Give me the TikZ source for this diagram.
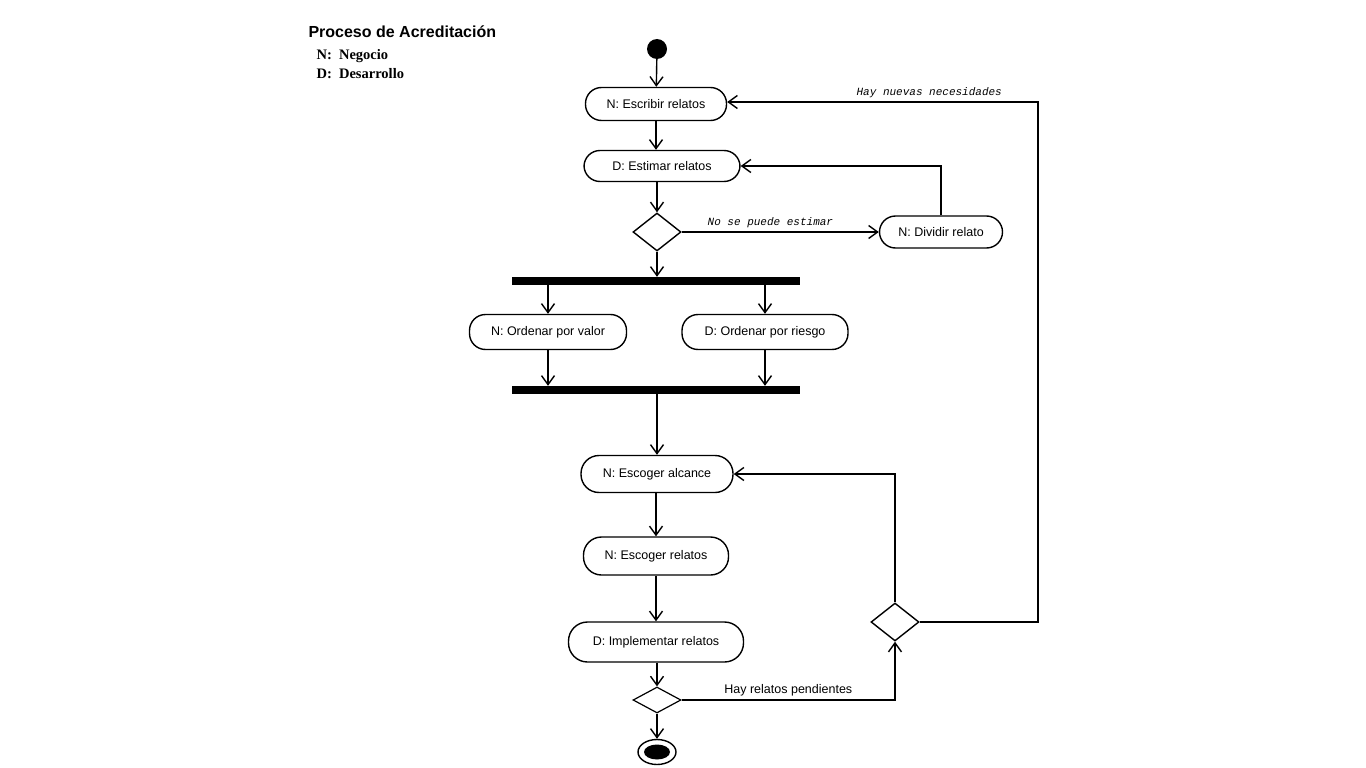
\documentclass[tikz,border=0pt]{standalone}
\usepackage{fontspec}
\setmainfont{Liberation Serif}
\setsansfont{Liberation Sans}
\setmonofont{Liberation Mono}
\usetikzlibrary{arrows.meta,shapes.geometric}
\begin{document}
\begin{tikzpicture}[x=1pt,y=-1pt,
  act/.style={draw,line width=1.4pt,rounded corners=16pt,minimum height=33pt,font=\sffamily\fontsize{12.5}{14}\selectfont,inner sep=0pt},
  dec/.style={draw,line width=1.4pt,diamond,inner sep=0pt,minimum width=48pt,minimum height=38pt},
  bar/.style={fill=black,inner sep=0pt,minimum height=8pt,minimum width=288pt},
  ar/.style={line width=1.4pt,-{Straight Barb[length=9pt,width=13pt,line width=1.4pt]}},
  ln/.style={line width=1.4pt},
  lab/.style={font=\ttfamily\itshape\fontsize{11}{12}\selectfont}]
\useasboundingbox (0,0) rectangle (1366,768);
\node[anchor=west,font=\sffamily\bfseries\fontsize{16}{18}\selectfont] (title) at (305,32) {Proceso de Acreditación};
\node[anchor=west,font=\bfseries\fontsize{14.5}{16}\selectfont] (l1) at (313,56) {N:\ \ Negocio};
\node[anchor=west,font=\bfseries\fontsize{14.5}{16}\selectfont] (l2) at (313,74) {D:\ \ Desarrollo};
\node[circle,fill=black,minimum size=20pt,inner sep=0pt] (start) at (657,49) {};
\node[act,minimum width=141pt] (esc) at (656,104) {N: Escribir relatos};
\node[act,minimum width=156pt,minimum height=31pt] (est) at (662,166) {D: Estimar relatos};
\node[dec] (d1) at (657,232) {};
\node[act,minimum width=123pt,minimum height=32pt] (div) at (941,232) {N: Dividir relato};
\node[bar] (b1) at (656,281) {};
\node[act,minimum width=157pt,minimum height=35pt] (ov) at (548,332) {N: Ordenar por valor};
\node[act,minimum width=166pt,minimum height=35pt] (or) at (765,332) {D: Ordenar por riesgo};
\node[bar] (b2) at (656,390) {};
\node[act,minimum width=152pt,minimum height=37pt,rounded corners=18pt] (alc) at (657,474) {N: Escoger alcance};
\node[act,minimum width=145pt,minimum height=38pt,rounded corners=18pt] (rel) at (656,556) {N: Escoger relatos};
\node[act,minimum width=175pt,minimum height=40pt,rounded corners=19pt] (imp) at (656,642) {D: Implementar relatos};
\node[draw,line width=1.2pt,diamond,inner sep=0pt,minimum width=48pt,minimum height=26pt] (d2) at (657,700) {};
\node[draw,line width=1.4pt,ellipse,minimum width=38pt,minimum height=25pt,inner sep=0pt] (end) at (657,752) {};
\node[ellipse,fill=black,minimum width=26pt,minimum height=15pt,inner sep=0pt] (endi) at (657,752) {};
\node[dec] (d3) at (895,622) {};
\draw[ar] (start) -- (esc);
\draw[ar] (esc) -- (est.north -| esc);
\draw[ar] (est.south -| d1) -- (d1);
\draw[ar] (d1) -- node[lab,above,pos=0.45] {No se puede estimar} (div);
\draw[ar] (div.north) |- (est.east);
\draw[ar] (d1) -- (b1.north -| d1);
\draw[ar] (b1.south -| ov) -- (ov);
\draw[ar] (b1.south -| or) -- (or);
\draw[ar] (ov) -- (b2.north -| ov);
\draw[ar] (or) -- (b2.north -| or);
\draw[ar] (b2.south -| alc) -- (alc);
\draw[ar] (alc.south -| rel) -- (rel);
\draw[ar] (rel) -- (imp);
\draw[ar] (imp.south -| d2) -- (d2);
\draw[ar] (d2) -- (end);
\coordinate (c1) at (895,700);
\draw[ar] (d2.east) -- node[above,font=\sffamily\fontsize{12.5}{14}\selectfont,pos=0.5] {Hay relatos pendientes} (c1) -- (d3.south);
\draw[ar] (d3.north) |- (alc.east);
\coordinate (c2) at (1038,622);
\coordinate (c3) at (1038,102);
\draw[ar] (d3.east) -- (c2) -- (c3) -- node[lab,above,pos=0.35] {Hay nuevas necesidades} (esc.east |- c3);
\end{tikzpicture}
\end{document}
